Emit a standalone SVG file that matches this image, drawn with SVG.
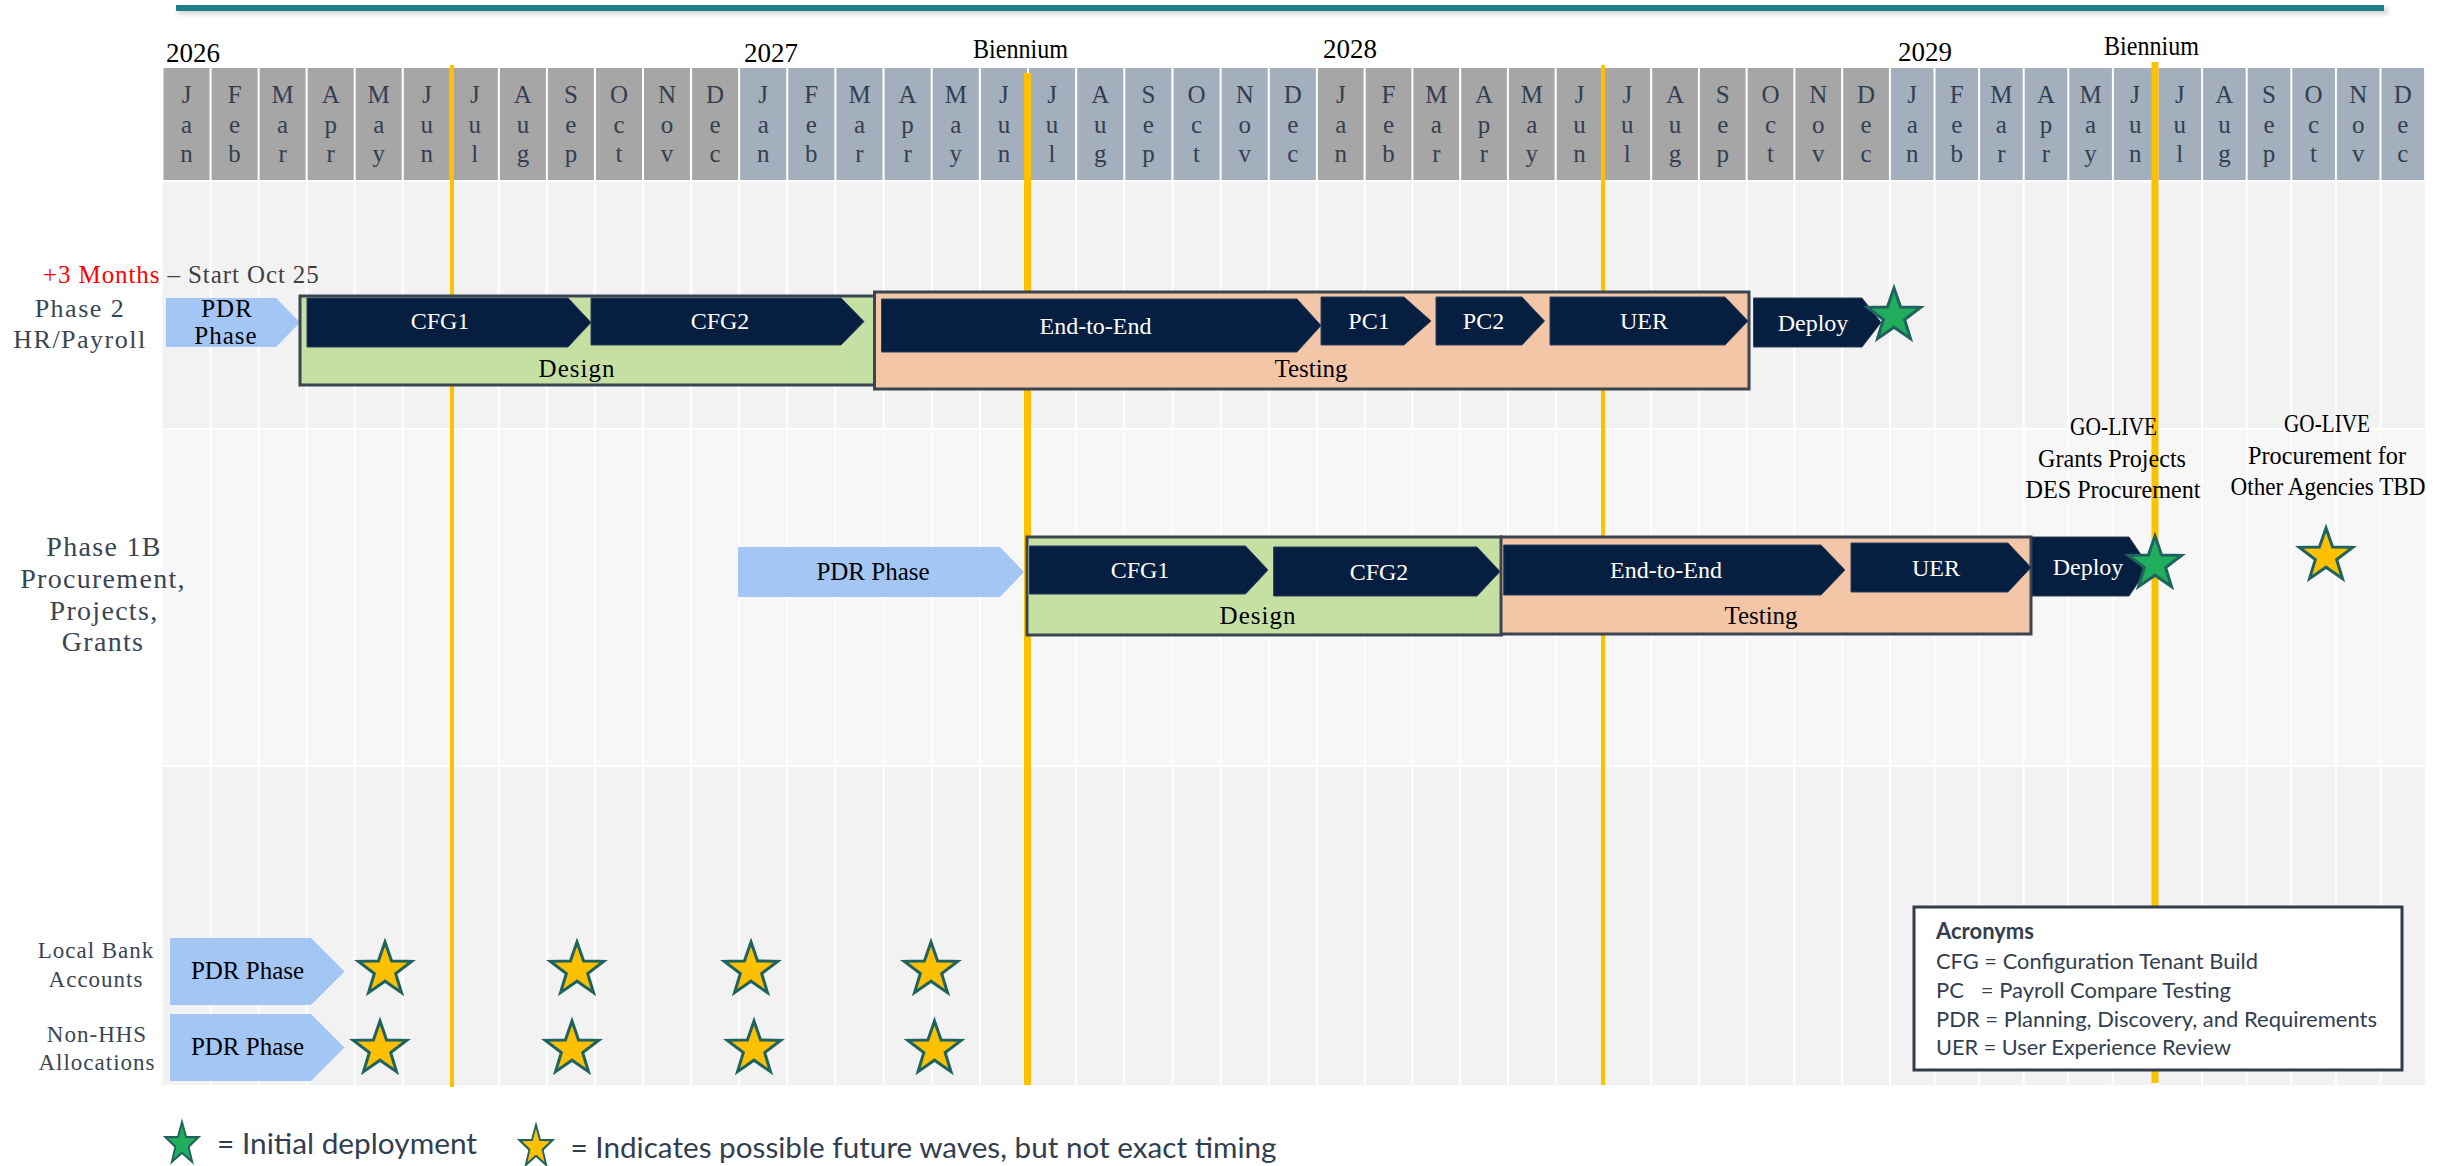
<svg xmlns="http://www.w3.org/2000/svg" xmlns:xlink="http://www.w3.org/1999/xlink" width="2450" height="1166" viewBox="0 0 2450 1166">
<defs>
<style>
.hA{fill:#A6A6A6}.hB{fill:#A3AFBD}
.ml{font-family:"Liberation Serif",serif;font-size:25px;fill:#333F50;text-anchor:middle}
.yr{font-family:"Liberation Serif",serif;font-size:27px;fill:#000}
.navy{fill:#061E40;stroke:#2B3F5C;stroke-width:1}
.pdr{fill:#A3C6F5}
.design{fill:#C6E0A4;stroke:#3B4550;stroke-width:3}
.testing{fill:#F4C6A8;stroke:#3B4550;stroke-width:3}
.wt{font-family:"Liberation Serif",serif;font-size:24px;fill:#fff;text-anchor:middle}
.bt{font-family:"Liberation Serif",serif;font-size:25px;fill:#000;text-anchor:middle}
.lbl{font-family:"Liberation Serif",serif;font-size:26px;fill:#3A4553;text-anchor:middle;letter-spacing:1.5px}
.lbb{font-family:"Liberation Serif",serif;font-size:28px;fill:#3A4553;text-anchor:middle;letter-spacing:1.3px}
.lbs{font-family:"Liberation Serif",serif;font-size:23px;fill:#3A4553;text-anchor:middle;letter-spacing:1px}
.gl{font-family:"Liberation Serif",serif;font-size:26px;fill:#000;text-anchor:middle}
.sy{fill:#FFC000;stroke:#1F6360;stroke-width:3;vector-effect:non-scaling-stroke}
.sg{fill:#21AE5C;stroke:#1F6360;stroke-width:3;vector-effect:non-scaling-stroke}
.or{stroke:#FFC000;fill:none}
.cal{font-family:Lato,"Open Sans",sans-serif;fill:#323E4F}
</style>
<path id="star" d="M0,-28 L6.58,-9.06 L26.63,-8.65 L10.65,3.46 L16.46,22.65 L0,11.2 L-16.46,22.65 L-10.65,3.46 L-26.63,-8.65 L-6.58,-9.06 Z"/>
<filter id="sh" x="-5%" y="-200%" width="110%" height="500%"><feGaussianBlur stdDeviation="2.5"/></filter>
</defs>

<!-- top rule -->
<g id="top-rule">
<rect x="178" y="8" width="2210" height="6" fill="#000" opacity="0.18" filter="url(#sh)"/>
<rect x="176" y="5" width="2208" height="6" fill="#1E7F8B"/>
</g>

<!-- body background -->
<g id="body-bg">
<rect x="162.5" y="182" width="2262.5" height="246" fill="#F2F2F2"/>
<rect x="162.5" y="430" width="2262.5" height="335" fill="#F7F7F7"/>
<rect x="162.5" y="767" width="2262.5" height="318" fill="#F2F2F2"/>
<path stroke="#FFFFFF" stroke-width="2" fill="none" d="M210.6 182V1085M258.6 182V1085M306.7 182V1085M354.7 182V1085M402.8 182V1085M450.8 182V1085M498.9 182V1085M546.9 182V1085M595 182V1085M643 182V1085M691.1 182V1085M739.1 182V1085M787.3 182V1085M835.4 182V1085M883.6 182V1085M931.7 182V1085M979.9 182V1085M1028 182V1085M1076.2 182V1085M1124.3 182V1085M1172.5 182V1085M1220.6 182V1085M1268.8 182V1085M1316.9 182V1085M1364.7 182V1085M1412.4 182V1085M1460.2 182V1085M1507.9 182V1085M1555.7 182V1085M1603.4 182V1085M1651.2 182V1085M1698.9 182V1085M1746.7 182V1085M1794.4 182V1085M1842.2 182V1085M1889.9 182V1085M1934.5 182V1085M1979.1 182V1085M2023.7 182V1085M2068.3 182V1085M2112.9 182V1085M2157.5 182V1085M2202.1 182V1085M2246.7 182V1085M2291.3 182V1085M2335.9 182V1085M2380.5 182V1085"/>
</g>

<!-- header cells -->
<g id="header">
<g class="hA">
<rect x="163.5" y="68" width="46" height="112"/><rect x="211.6" y="68" width="46" height="112"/><rect x="259.6" y="68" width="46" height="112"/><rect x="307.7" y="68" width="46" height="112"/><rect x="355.7" y="68" width="46" height="112"/><rect x="403.8" y="68" width="46" height="112"/><rect x="451.8" y="68" width="46" height="112"/><rect x="499.9" y="68" width="46" height="112"/><rect x="547.9" y="68" width="46" height="112"/><rect x="596" y="68" width="46" height="112"/><rect x="644" y="68" width="46" height="112"/><rect x="692.1" y="68" width="46" height="112"/>
<rect x="1317.9" y="68" width="45.7" height="112"/><rect x="1365.7" y="68" width="45.7" height="112"/><rect x="1413.4" y="68" width="45.7" height="112"/><rect x="1461.2" y="68" width="45.7" height="112"/><rect x="1508.9" y="68" width="45.7" height="112"/><rect x="1556.7" y="68" width="45.7" height="112"/><rect x="1604.4" y="68" width="45.7" height="112"/><rect x="1652.2" y="68" width="45.7" height="112"/><rect x="1699.9" y="68" width="45.7" height="112"/><rect x="1747.7" y="68" width="45.7" height="112"/><rect x="1795.4" y="68" width="45.7" height="112"/><rect x="1843.2" y="68" width="45.7" height="112"/>
</g>
<g class="hB">
<rect x="740.1" y="68" width="46.1" height="112"/><rect x="788.3" y="68" width="46.1" height="112"/><rect x="836.4" y="68" width="46.1" height="112"/><rect x="884.6" y="68" width="46.1" height="112"/><rect x="932.7" y="68" width="46.1" height="112"/><rect x="980.9" y="68" width="46.1" height="112"/><rect x="1029" y="68" width="46.1" height="112"/><rect x="1077.2" y="68" width="46.1" height="112"/><rect x="1125.3" y="68" width="46.1" height="112"/><rect x="1173.5" y="68" width="46.1" height="112"/><rect x="1221.6" y="68" width="46.1" height="112"/><rect x="1269.8" y="68" width="46.1" height="112"/>
<rect x="1890.9" y="68" width="42.6" height="112"/><rect x="1935.5" y="68" width="42.6" height="112"/><rect x="1980.1" y="68" width="42.6" height="112"/><rect x="2024.7" y="68" width="42.6" height="112"/><rect x="2069.3" y="68" width="42.6" height="112"/><rect x="2113.9" y="68" width="42.6" height="112"/><rect x="2158.5" y="68" width="42.6" height="112"/><rect x="2203.1" y="68" width="42.6" height="112"/><rect x="2247.7" y="68" width="42.6" height="112"/><rect x="2292.3" y="68" width="42.6" height="112"/><rect x="2336.9" y="68" width="42.6" height="112"/><rect x="2381.5" y="68" width="42.6" height="112"/>
</g>
<g class="ml">
<text x="186.5" y="103">J<tspan x="186.5" y="133">a</tspan><tspan x="186.5" y="162">n</tspan></text>
<text x="234.6" y="103">F<tspan x="234.6" y="133">e</tspan><tspan x="234.6" y="162">b</tspan></text>
<text x="282.6" y="103">M<tspan x="282.6" y="133">a</tspan><tspan x="282.6" y="162">r</tspan></text>
<text x="330.7" y="103">A<tspan x="330.7" y="133">p</tspan><tspan x="330.7" y="162">r</tspan></text>
<text x="378.7" y="103">M<tspan x="378.7" y="133">a</tspan><tspan x="378.7" y="162">y</tspan></text>
<text x="426.8" y="103">J<tspan x="426.8" y="133">u</tspan><tspan x="426.8" y="162">n</tspan></text>
<text x="474.8" y="103">J<tspan x="474.8" y="133">u</tspan><tspan x="474.8" y="162">l</tspan></text>
<text x="522.9" y="103">A<tspan x="522.9" y="133">u</tspan><tspan x="522.9" y="162">g</tspan></text>
<text x="570.9" y="103">S<tspan x="570.9" y="133">e</tspan><tspan x="570.9" y="162">p</tspan></text>
<text x="619" y="103">O<tspan x="619" y="133">c</tspan><tspan x="619" y="162">t</tspan></text>
<text x="667" y="103">N<tspan x="667" y="133">o</tspan><tspan x="667" y="162">v</tspan></text>
<text x="715.1" y="103">D<tspan x="715.1" y="133">e</tspan><tspan x="715.1" y="162">c</tspan></text>
<text x="763.2" y="103">J<tspan x="763.2" y="133">a</tspan><tspan x="763.2" y="162">n</tspan></text>
<text x="811.3" y="103">F<tspan x="811.3" y="133">e</tspan><tspan x="811.3" y="162">b</tspan></text>
<text x="859.5" y="103">M<tspan x="859.5" y="133">a</tspan><tspan x="859.5" y="162">r</tspan></text>
<text x="907.6" y="103">A<tspan x="907.6" y="133">p</tspan><tspan x="907.6" y="162">r</tspan></text>
<text x="955.8" y="103">M<tspan x="955.8" y="133">a</tspan><tspan x="955.8" y="162">y</tspan></text>
<text x="1003.9" y="103">J<tspan x="1003.9" y="133">u</tspan><tspan x="1003.9" y="162">n</tspan></text>
<text x="1052.1" y="103">J<tspan x="1052.1" y="133">u</tspan><tspan x="1052.1" y="162">l</tspan></text>
<text x="1100.2" y="103">A<tspan x="1100.2" y="133">u</tspan><tspan x="1100.2" y="162">g</tspan></text>
<text x="1148.4" y="103">S<tspan x="1148.4" y="133">e</tspan><tspan x="1148.4" y="162">p</tspan></text>
<text x="1196.5" y="103">O<tspan x="1196.5" y="133">c</tspan><tspan x="1196.5" y="162">t</tspan></text>
<text x="1244.7" y="103">N<tspan x="1244.7" y="133">o</tspan><tspan x="1244.7" y="162">v</tspan></text>
<text x="1292.8" y="103">D<tspan x="1292.8" y="133">e</tspan><tspan x="1292.8" y="162">c</tspan></text>
<text x="1340.8" y="103">J<tspan x="1340.8" y="133">a</tspan><tspan x="1340.8" y="162">n</tspan></text>
<text x="1388.5" y="103">F<tspan x="1388.5" y="133">e</tspan><tspan x="1388.5" y="162">b</tspan></text>
<text x="1436.3" y="103">M<tspan x="1436.3" y="133">a</tspan><tspan x="1436.3" y="162">r</tspan></text>
<text x="1484" y="103">A<tspan x="1484" y="133">p</tspan><tspan x="1484" y="162">r</tspan></text>
<text x="1531.8" y="103">M<tspan x="1531.8" y="133">a</tspan><tspan x="1531.8" y="162">y</tspan></text>
<text x="1579.5" y="103">J<tspan x="1579.5" y="133">u</tspan><tspan x="1579.5" y="162">n</tspan></text>
<text x="1627.3" y="103">J<tspan x="1627.3" y="133">u</tspan><tspan x="1627.3" y="162">l</tspan></text>
<text x="1675" y="103">A<tspan x="1675" y="133">u</tspan><tspan x="1675" y="162">g</tspan></text>
<text x="1722.8" y="103">S<tspan x="1722.8" y="133">e</tspan><tspan x="1722.8" y="162">p</tspan></text>
<text x="1770.5" y="103">O<tspan x="1770.5" y="133">c</tspan><tspan x="1770.5" y="162">t</tspan></text>
<text x="1818.3" y="103">N<tspan x="1818.3" y="133">o</tspan><tspan x="1818.3" y="162">v</tspan></text>
<text x="1866" y="103">D<tspan x="1866" y="133">e</tspan><tspan x="1866" y="162">c</tspan></text>
<text x="1912.2" y="103">J<tspan x="1912.2" y="133">a</tspan><tspan x="1912.2" y="162">n</tspan></text>
<text x="1956.8" y="103">F<tspan x="1956.8" y="133">e</tspan><tspan x="1956.8" y="162">b</tspan></text>
<text x="2001.4" y="103">M<tspan x="2001.4" y="133">a</tspan><tspan x="2001.4" y="162">r</tspan></text>
<text x="2046" y="103">A<tspan x="2046" y="133">p</tspan><tspan x="2046" y="162">r</tspan></text>
<text x="2090.6" y="103">M<tspan x="2090.6" y="133">a</tspan><tspan x="2090.6" y="162">y</tspan></text>
<text x="2135.2" y="103">J<tspan x="2135.2" y="133">u</tspan><tspan x="2135.2" y="162">n</tspan></text>
<text x="2179.8" y="103">J<tspan x="2179.8" y="133">u</tspan><tspan x="2179.8" y="162">l</tspan></text>
<text x="2224.4" y="103">A<tspan x="2224.4" y="133">u</tspan><tspan x="2224.4" y="162">g</tspan></text>
<text x="2269" y="103">S<tspan x="2269" y="133">e</tspan><tspan x="2269" y="162">p</tspan></text>
<text x="2313.6" y="103">O<tspan x="2313.6" y="133">c</tspan><tspan x="2313.6" y="162">t</tspan></text>
<text x="2358.2" y="103">N<tspan x="2358.2" y="133">o</tspan><tspan x="2358.2" y="162">v</tspan></text>
<text x="2402.8" y="103">D<tspan x="2402.8" y="133">e</tspan><tspan x="2402.8" y="162">c</tspan></text>
</g>
<g class="yr">
<text x="166" y="62">2026</text>
<text x="744" y="62">2027</text>
<text x="1323" y="58">2028</text>
<text x="1898" y="61">2029</text>
<text x="973" y="58" textLength="95" lengthAdjust="spacingAndGlyphs">Biennium</text>
<text x="2104" y="55" textLength="95" lengthAdjust="spacingAndGlyphs">Biennium</text>
</g>
</g>

<!-- biennium / half-year markers -->
<g id="markers">
<line class="or" x1="452" y1="65" x2="452" y2="1087" stroke-width="4"/>
<line class="or" x1="1027.5" y1="73" x2="1027.5" y2="1085" stroke-width="7"/>
<line class="or" x1="1603" y1="65" x2="1603" y2="1085" stroke-width="4"/>
<line class="or" x1="2155" y1="62" x2="2155" y2="1083" stroke-width="7"/>
</g>

<g id="connectors"></g>

<!-- Phase 2 row -->
<g id="phase2-label">
<text x="43" y="283" font-family="Liberation Serif, serif" font-size="25" fill="#404040" letter-spacing="0.9"><tspan fill="#FF0000">+3 Months</tspan> – Start Oct 25</text>
<text class="lbl" x="80" y="317">Phase 2</text>
<text class="lbl" x="80" y="348">HR/Payroll</text>
</g>
<g id="p2-pdr">
<path class="pdr" d="M166 298H276L300 322.5L276 347H166Z"/>
<text class="bt" x="227" y="317" letter-spacing="1">PDR</text>
<text class="bt" x="226" y="344" letter-spacing="1">Phase</text>
</g>
<g id="p2-design">
<rect class="design" x="300" y="296" width="575" height="89"/>
<text class="bt" x="577" y="377" font-size="26" letter-spacing="1">Design</text>
</g>
<g id="p2-testing">
<rect class="testing" x="874.5" y="292" width="874.5" height="97"/>
<text class="bt" x="1311" y="377">Testing</text>
</g>
<g id="p2-cfg1">
<path class="navy" d="M307 298H568L591 322.5L568 347H307Z"/>
<text class="wt" x="440" y="329">CFG1</text>
</g>
<g id="p2-cfg2">
<path class="navy" d="M591 298H841L864 321.5L841 345H591Z"/>
<text class="wt" x="720" y="329">CFG2</text>
</g>
<g id="p2-e2e">
<path class="navy" d="M881.5 299H1297L1321 325.5L1297 352H881.5Z"/>
<text class="wt" x="1095.5" y="334">End-to-End</text>
</g>
<g id="p2-pc1">
<path class="navy" d="M1321 297H1404L1431 321L1404 345H1321Z"/>
<text class="wt" x="1369" y="329">PC1</text>
</g>
<g id="p2-pc2">
<path class="navy" d="M1436 297H1522L1544.5 321L1522 345H1436Z"/>
<text class="wt" x="1483.5" y="329">PC2</text>
</g>
<g id="p2-uer">
<path class="navy" d="M1550 297H1725L1748 321L1725 345H1550Z"/>
<text class="wt" x="1644" y="329">UER</text>
</g>
<g id="p2-deploy">
<path class="navy" d="M1753.5 298H1862L1881 322.5L1862 347H1753.5Z"/>
<text class="wt" x="1813" y="331">Deploy</text>
</g>
<g id="p2-golive">
<use href="#star" class="sg" x="1894" y="316"/>
</g>

<!-- Phase 1B row -->
<g id="phase1b-label">
<text class="lbb" x="104" y="556">Phase 1B</text>
<text class="lbb" x="103" y="588">Procurement,</text>
<text class="lbb" x="104" y="620">Projects,</text>
<text class="lbb" x="103" y="651">Grants</text>
</g>
<g id="p1b-pdr">
<path class="pdr" d="M738 547H1000L1024 572L1000 597H738Z"/>
<text class="bt" x="873" y="580">PDR Phase</text>
</g>
<g id="p1b-design">
<rect class="design" x="1027" y="537" width="474.5" height="98"/>
<text class="bt" x="1258" y="624" font-size="26" letter-spacing="1">Design</text>
</g>
<g id="p1b-testing">
<rect class="testing" x="1501" y="537" width="530" height="97"/>
<text class="bt" x="1761" y="624">Testing</text>
</g>
<g id="p1b-cfg1">
<path class="navy" d="M1029.5 546H1245.5L1268 570L1245.5 594H1029.5Z"/>
<text class="wt" x="1140" y="578">CFG1</text>
</g>
<g id="p1b-cfg2">
<path class="navy" d="M1273.6 547H1477L1500 571.5L1477 596H1273.6Z"/>
<text class="wt" x="1379" y="580">CFG2</text>
</g>
<g id="p1b-e2e">
<path class="navy" d="M1503.7 545H1821L1845 570L1821 595H1503.7Z"/>
<text class="wt" x="1666" y="578">End-to-End</text>
</g>
<g id="p1b-uer">
<path class="navy" d="M1851 543H2008L2031 567.5L2008 592H1851Z"/>
<text class="wt" x="1936" y="576">UER</text>
</g>
<g id="p1b-deploy">
<path class="navy" d="M2032 537H2129L2149 566.5L2129 596H2032Z"/>
<text class="wt" x="2088" y="575">Deploy</text>
</g>
<g id="p1b-golive">
<text class="gl" x="2113.5" y="435" textLength="87" lengthAdjust="spacingAndGlyphs">GO-LIVE</text>
<text class="gl" x="2112" y="467" textLength="148" lengthAdjust="spacingAndGlyphs">Grants Projects</text>
<text class="gl" x="2113" y="498" textLength="175" lengthAdjust="spacingAndGlyphs">DES Procurement</text>
<use href="#star" class="sg" x="2155" y="564"/>
</g>
<g id="other-golive">
<text class="gl" x="2327" y="432" textLength="86" lengthAdjust="spacingAndGlyphs">GO-LIVE</text>
<text class="gl" x="2327" y="464" textLength="158" lengthAdjust="spacingAndGlyphs">Procurement for</text>
<text class="gl" x="2328" y="495" textLength="195" lengthAdjust="spacingAndGlyphs">Other Agencies TBD</text>
<use href="#star" class="sy" x="2326" y="556"/>
</g>

<!-- Local Bank Accounts -->
<g id="local-bank">
<text class="lbs" x="96" y="958">Local Bank</text>
<text class="lbs" x="96" y="987">Accounts</text>
<path class="pdr" d="M170 938H311L344.5 971.5L311 1005H170Z"/>
<text class="bt" x="247.5" y="979">PDR Phase</text>
<use href="#star" class="sy" x="385" y="970"/>
<use href="#star" class="sy" x="577" y="970"/>
<use href="#star" class="sy" x="751" y="970"/>
<use href="#star" class="sy" x="931" y="970"/>
</g>
<!-- Non-HHS Allocations -->
<g id="non-hhs">
<text class="lbs" x="97" y="1042">Non-HHS</text>
<text class="lbs" x="97" y="1070">Allocations</text>
<path class="pdr" d="M170 1014H311L344.5 1047.5L311 1081H170Z"/>
<text class="bt" x="247.5" y="1055">PDR Phase</text>
<use href="#star" class="sy" x="380" y="1049"/>
<use href="#star" class="sy" x="572" y="1049"/>
<use href="#star" class="sy" x="754" y="1049"/>
<use href="#star" class="sy" x="934.5" y="1049"/>
</g>

<!-- Acronyms -->
<g id="acronyms">
<rect x="1914" y="907" width="488" height="163" fill="#FFFFFF" stroke="#333D48" stroke-width="3"/>
<text class="cal" x="1936" y="939" font-size="22" font-weight="bold" textLength="98" lengthAdjust="spacingAndGlyphs">Acronyms</text>
<text class="cal" x="1936" y="969" font-size="22" textLength="322" lengthAdjust="spacingAndGlyphs">CFG = Configuration Tenant Build</text>
<text class="cal" x="1936" y="998" font-size="22" textLength="295" lengthAdjust="spacingAndGlyphs" xml:space="preserve" style="white-space:pre">PC   = Payroll Compare Testing</text>
<text class="cal" x="1936" y="1027" font-size="22" textLength="441" lengthAdjust="spacingAndGlyphs">PDR = Planning, Discovery, and Requirements</text>
<text class="cal" x="1936" y="1055" font-size="22" textLength="295" lengthAdjust="spacingAndGlyphs">UER = User Experience Review</text>
</g>

<!-- Legend -->
<g id="legend">
<use href="#star" class="sg" transform="translate(182,1144) scale(0.62,0.79)"/>
<text class="cal" x="217" y="1154" font-size="28" textLength="260" lengthAdjust="spacingAndGlyphs">= Initial deployment</text>
<use href="#star" class="sy" transform="translate(536,1147) scale(0.62,0.79)"/>
<text class="cal" x="570.5" y="1158" font-size="28" textLength="706" lengthAdjust="spacingAndGlyphs">= Indicates possible future waves, but not exact timing</text>
</g>
</svg>
